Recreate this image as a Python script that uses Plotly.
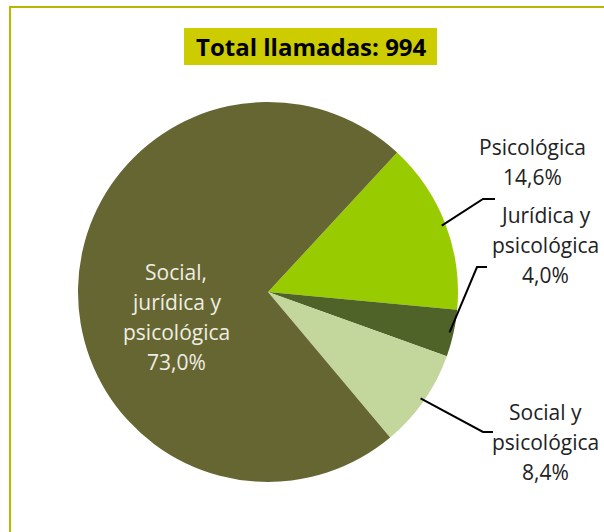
import math
import plotly.graph_objects as go

# ---- data ----
labels = ["Psicológica", "Jurídica y psicológica", "Social y psicológica",
          "Social, jurídica y psicológica"]
values = [14.6, 4.0, 8.4, 73.0]
label_lines = [["Psicológica"], ["Jurídica y", "psicológica"], ["Social y", "psicológica"],
               ["Social,", "jurídica y", "psicológica"]]
colors = ["#99cc00", "#4f6228", "#c3d69b", "#666633"]
title_text = "Total llamadas: 994"

W, H = 604, 532
cx, cy, R = 268, 292, 190
rotation = 42.8


def px(x):
    return x / W


def py(y):
    return 1 - y / H


fig = go.Figure()
fig.add_trace(go.Pie(
    labels=labels, values=values, sort=False, direction="clockwise",
    rotation=rotation, marker=dict(colors=colors, line=dict(width=0)),
    textinfo="none", hoverinfo="label+percent", showlegend=False,
    domain=dict(x=[px(cx - R), px(cx + R)], y=[py(cy + R), py(cy - R)]),
))

fmt = lambda v: f"{v:.1f}".replace(".", ",") + "%"

# label placement (center x, first line y), elbow (x, y), elbow end x
placements = [
    dict(x=532, y=147, elbow=(483, 199), end=495, color="#222222"),
    dict(x=545, y=215, elbow=(477, 267), end=487, color="#222222"),
    dict(x=545, y=412, elbow=(483, 432), end=493, color="#222222"),
    dict(x=176, y=272, elbow=None, end=None, color="#eeeee2"),
]

font_family = "'Open Sans', sans-serif"
fs = 21
gap = 30

total = sum(values)
cum = 0.0
annotations = []
shapes = []
for i, (v, lines, pl) in enumerate(zip(values, label_lines, placements)):
    mid = rotation + (cum + v / 2) / total * 360
    cum += v
    all_lines = lines + [fmt(v)]
    for j, t in enumerate(all_lines):
        annotations.append(dict(
            x=px(pl["x"]), y=py(pl["y"] + j * gap), xref="paper", yref="paper",
            text=t, showarrow=False, xanchor="center", yanchor="middle",
            font=dict(family=font_family, size=fs, color=pl["color"]),
        ))
    if pl["elbow"] is not None:
        a = math.radians(mid)
        sx = cx + (R - 4) * math.sin(a)
        sy = cy - (R - 4) * math.cos(a)
        ex, ey = pl["elbow"]
        path = (f"M {px(sx)},{py(sy)} L {px(ex)},{py(ey)} L {px(pl['end'])},{py(ey)}")
        shapes.append(dict(type="path", xref="paper", yref="paper", path=path,
                           line=dict(color="#000000", width=2)))

# title box
shapes.append(dict(type="rect", xref="paper", yref="paper",
                   x0=px(184), x1=px(437), y0=py(65), y1=py(28),
                   fillcolor="#cccc00", line=dict(width=0), layer="below"))
annotations.append(dict(
    x=px(311), y=py(46.5), xref="paper", yref="paper", text=f"<b>{title_text}</b>",
    showarrow=False, xanchor="center", yanchor="middle",
    font=dict(family=font_family, size=24, color="#000000"),
))

# outer frame (top and left visible)
shapes.append(dict(type="rect", xref="paper", yref="paper",
                   x0=px(10), x1=px(W + 20), y0=py(H + 20), y1=py(7),
                   line=dict(color="#b8b800", width=2), fillcolor="rgba(0,0,0,0)"))

fig.update_layout(
    width=W, height=H, margin=dict(l=0, r=0, t=0, b=0),
    paper_bgcolor="#ffffff", plot_bgcolor="#ffffff",
    annotations=annotations, shapes=shapes,
)

fig.write_html("out.html", config={"displayModeBar": False},
               post_script="document.body.style.margin='0';document.body.style.overflow='hidden';")
